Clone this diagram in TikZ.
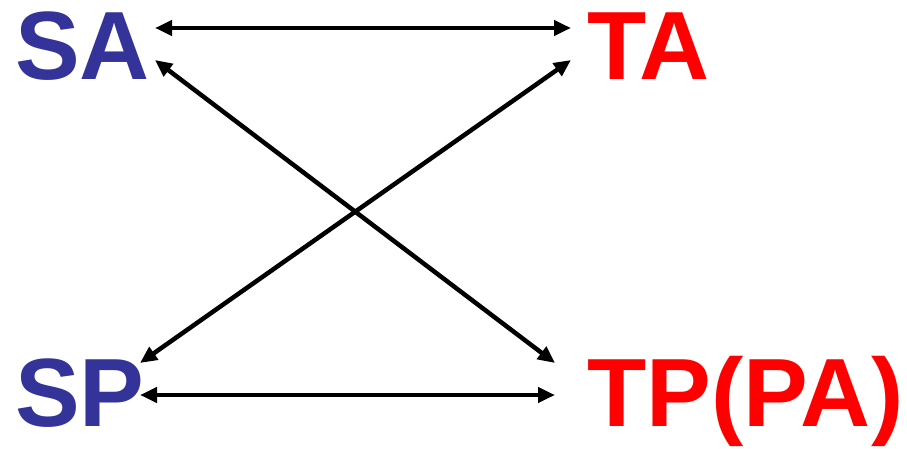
\documentclass[tikz,border=0pt]{standalone}
\usepackage{fontspec}
\setmainfont{Liberation Sans}
\usetikzlibrary{arrows.meta}
\definecolor{sblue}{HTML}{333399}
\definecolor{tred}{HTML}{FF0000}
\begin{document}
\begin{tikzpicture}[x=1pt,y=-1pt,
  lbl/.style={inner sep=0pt,anchor=base west,font=\fontsize{97}{100}\selectfont\bfseries},
  link/.style={line width=4.5pt,{Triangle[length=17pt,width=15pt]}-{Triangle[length=17pt,width=15pt]}}]
\useasboundingbox (0,0) rectangle (907,449);
\node[lbl,text=sblue] (SA) at (15,80) {SA};
\node[lbl,text=tred] (TA) at (587,80) {TA};
\node[lbl,text=sblue] (SP) at (15,426) {SP};
\node[lbl,text=tred] (TP) at (587,426) {TP(PA)};
\coordinate (a1) at (155,28);
\coordinate (a2) at (571,28);
\coordinate (b1) at (155,60);
\coordinate (b2) at (555,363);
\coordinate (c1) at (571,60);
\coordinate (c2) at (140,363);
\coordinate (d1) at (140,395);
\coordinate (d2) at (555,395);
\draw[link] (a1) -- (a2);
\draw[link] (b1) -- (b2);
\draw[link] (c1) -- (c2);
\draw[link] (d1) -- (d2);
\end{tikzpicture}
\end{document}
